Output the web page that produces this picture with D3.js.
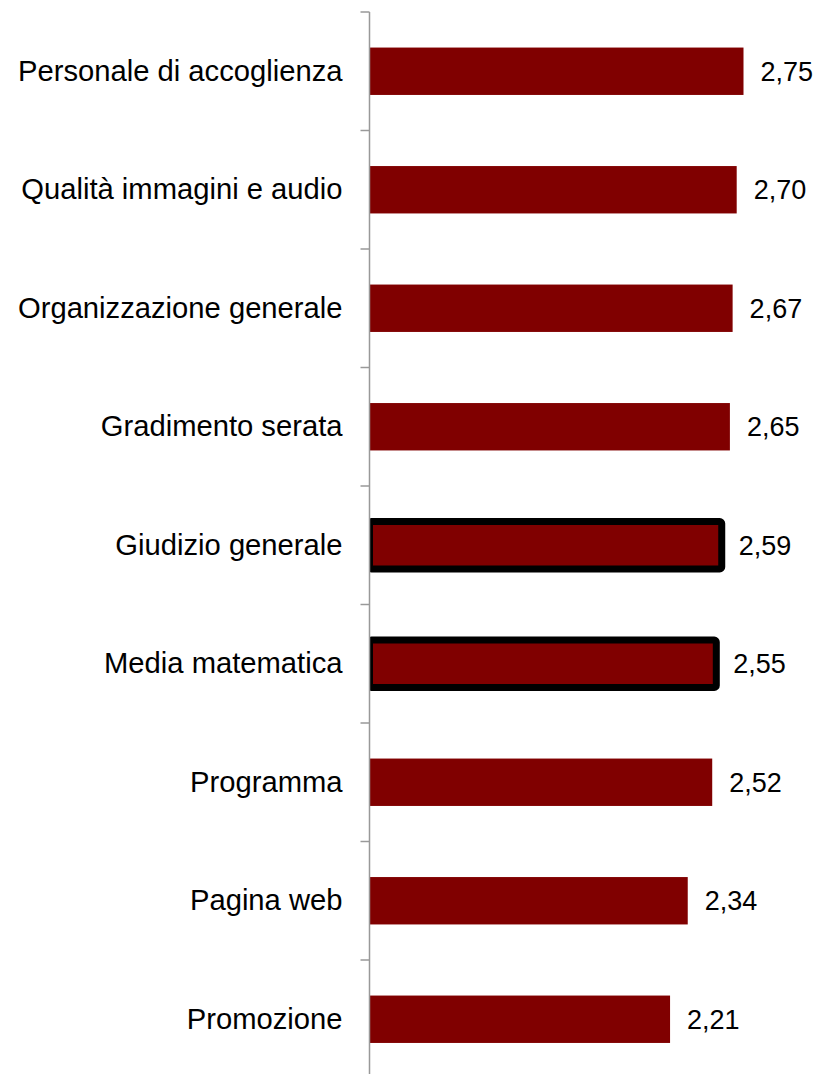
<!DOCTYPE html>
<html>
<head>
<meta charset="utf-8">
<script src="https://cdn.jsdelivr.net/npm/d3@7"></script>
<style>
  body { margin: 0; background: #fff; }
  text { font-family: "Liberation Sans", Arial, sans-serif; fill: #000; }
</style>
</head>
<body>
<div id="chart"></div>
<script>
const categories = [
  "Personale di accoglienza",
  "Qualità immagini e audio",
  "Organizzazione generale",
  "Gradimento serata",
  "Giudizio generale",
  "Media matematica",
  "Programma",
  "Pagina web",
  "Promozione"
];
const values = [2.75, 2.70, 2.67, 2.65, 2.59, 2.55, 2.52, 2.34, 2.21];
const highlighted = ["Giudizio generale", "Media matematica"];

const data = categories.map((c, i) => ({name: c, value: values[i]}));

let dim = {width: 819, height: 1074};
let axisX0 = 369.5;

let svg = d3.select('#chart').append('svg')
  .attr('width', dim.width)
  .attr('height', dim.height);

let scaleX = d3.scaleLinear()
  .domain([0, 3])
  .range([axisX0, axisX0 + 3 * 136]);

let scaleY = d3.scaleBand()
  .domain(categories)
  .range([12, 12 + 9 * 118.5])
  .paddingInner(0.6)
  .paddingOuter(0.3);

let step = scaleY.step();
let halfGap = step * 0.6 / 2;

svg.append('clipPath').attr('id', 'clip')
  .append('rect')
  .attr('x', axisX0).attr('y', 0)
  .attr('width', dim.width).attr('height', dim.height);

// bars
svg.append('g').attr('clip-path', 'url(#clip)')
  .selectAll('rect')
  .data(data)
  .enter()
  .append('rect')
  .attr('x', scaleX(0))
  .attr('y', d => scaleY(d.name))
  .attr('width', d => scaleX(d.value) - scaleX(0))
  .attr('height', scaleY.bandwidth())
  .attr('fill', '#800000')
  .attr('stroke', d => highlighted.includes(d.name) ? '#000' : 'none')
  .attr('stroke-width', 7)
  .attr('rx', d => highlighted.includes(d.name) ? 2 : 0);

// value labels
svg.append('g')
  .selectAll('text')
  .data(data)
  .enter()
  .append('text')
  .attr('x', d => scaleX(d.value) + 17)
  .attr('y', d => scaleY(d.name) + scaleY.bandwidth() / 2)
  .attr('dy', '0.35em')
  .attr('font-size', 27)
  .text(d => d3.format('.2f')(d.value).replace('.', ','));

// category labels
let axisY = d3.axisLeft(scaleY).tickSize(0).tickPadding(27);
let gy = svg.append('g')
  .attr('transform', `translate(${axisX0},0)`)
  .call(axisY);
gy.select('.domain').remove();
gy.selectAll('text')
  .attr('font-size', 29.2)
  .attr('font-family', '"Liberation Sans", Arial, sans-serif')
  .attr('fill', '#000');

// axis line and boundary ticks
let bounds = categories.map(c => scaleY(c) - halfGap);
svg.append('line')
  .attr('x1', axisX0).attr('x2', axisX0)
  .attr('y1', bounds[0]).attr('y2', dim.height)
  .attr('stroke', '#999').attr('stroke-width', 1.5);
svg.append('g')
  .selectAll('line')
  .data(bounds)
  .enter()
  .append('line')
  .attr('x1', axisX0 - 9).attr('x2', axisX0)
  .attr('y1', d => d).attr('y2', d => d)
  .attr('stroke', '#999').attr('stroke-width', 1.5);
</script>
</body>
</html>
